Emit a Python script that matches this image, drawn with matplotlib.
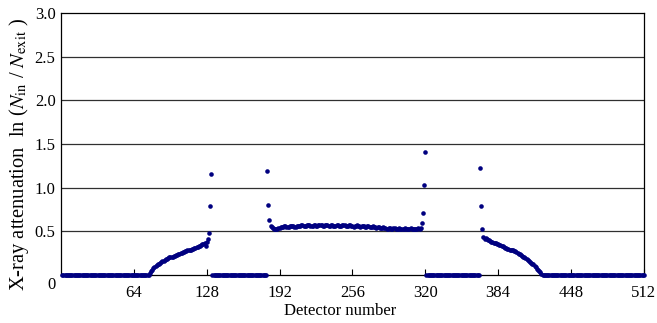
import matplotlib.pyplot as plt
import numpy as np

plt.rcParams['font.family'] = 'Liberation Serif'
plt.rcParams['mathtext.fontset'] = 'stix'

# detector numbers 1..512
detector = np.arange(1, 513)

# attenuation, segment by segment
zero_left = [0.0] * 77          # det 1-77
rise_left = [                   # det 78-132
    0.02, 0.04, 0.06, 0.08, 0.09, 0.10, 0.11, 0.12, 0.13, 0.14,
    0.15, 0.16, 0.16, 0.17, 0.18, 0.18, 0.19, 0.20, 0.20, 0.21,
    0.21, 0.22, 0.22, 0.23, 0.23, 0.24, 0.24, 0.25, 0.25, 0.26,
    0.26, 0.27, 0.27, 0.28, 0.28, 0.29, 0.29, 0.30, 0.30, 0.31,
    0.31, 0.32, 0.32, 0.33, 0.33, 0.34, 0.35, 0.35, 0.36, 0.33,
    0.38, 0.41, 0.48, 0.79, 1.16,
]
zero_mid1 = [0.0] * 48          # det 133-180
plateau = [                     # det 181-320
    1.19, 0.80, 0.63,
    0.56, 0.55, 0.54, 0.53, 0.53, 0.52, 0.53, 0.54, 0.54, 0.55,
    0.55, 0.55, 0.56, 0.56, 0.55, 0.55, 0.55, 0.56, 0.56, 0.56,
    0.56, 0.55, 0.55, 0.56, 0.56, 0.56, 0.56, 0.57, 0.57, 0.56,
    0.56, 0.56, 0.57, 0.57, 0.57, 0.56, 0.56, 0.56, 0.57, 0.57,
    0.56, 0.56, 0.57, 0.57, 0.57, 0.57, 0.56, 0.56, 0.57, 0.57,
    0.57, 0.56, 0.56, 0.57, 0.57, 0.56, 0.56, 0.56, 0.57, 0.57,
    0.56, 0.56, 0.56, 0.57, 0.57, 0.57, 0.56, 0.56, 0.56, 0.57,
    0.57, 0.56, 0.56, 0.55, 0.56, 0.56, 0.57, 0.56, 0.56, 0.55,
    0.56, 0.56, 0.56, 0.55, 0.55, 0.56, 0.56, 0.55, 0.55, 0.55,
    0.56, 0.55, 0.55, 0.54, 0.55, 0.55, 0.54, 0.54, 0.54, 0.55,
    0.54, 0.54, 0.53, 0.53, 0.54, 0.54, 0.53, 0.53, 0.54, 0.54,
    0.53, 0.53, 0.53, 0.54, 0.53, 0.53, 0.52, 0.53, 0.54, 0.53,
    0.53, 0.52, 0.53, 0.54, 0.53, 0.53, 0.53, 0.52, 0.53, 0.53,
    0.54, 0.53, 0.54,
    0.59, 0.71, 1.03, 1.41,
]
zero_mid2 = [0.0] * 47          # det 321-367
fall_right = [                  # det 368-422
    1.22, 0.79, 0.52,
    0.43, 0.41, 0.42, 0.41, 0.40, 0.40, 0.39, 0.38, 0.38, 0.37,
    0.36, 0.36, 0.35, 0.35, 0.34, 0.34, 0.33, 0.33, 0.32, 0.31,
    0.31, 0.30, 0.30, 0.29, 0.29, 0.28, 0.28, 0.27, 0.27, 0.26,
    0.25, 0.24, 0.24, 0.23, 0.22, 0.21, 0.20, 0.19, 0.18, 0.17,
    0.16, 0.15, 0.14, 0.13, 0.12, 0.10, 0.09, 0.07, 0.06, 0.04,
    0.03, 0.01,
]
zero_right = [0.0] * 90         # det 423-512

attenuation = zero_left + rise_left + zero_mid1 + plateau + zero_mid2 + fall_right + zero_right

fig = plt.figure(figsize=(6.57, 3.23), dpi=100)
ax = fig.add_axes([0.093, 0.149, 0.887, 0.811])

for y in [0.5, 1.0, 1.5, 2.0, 2.5]:
    ax.axhline(y, color='#303030', linewidth=0.9, zorder=1)

ax.plot(detector, attenuation, 'o', color='#000080', markersize=3.3,
        markeredgewidth=0, zorder=3, clip_on=False)

ax.set_xlim(0, 512)
ax.set_ylim(0, 3.0)
ax.set_xticks([64, 128, 192, 256, 320, 384, 448, 512])
ax.set_yticks([0.5, 1.0, 1.5, 2.0, 2.5, 3.0])
ax.set_yticklabels(['0.5', '1.0', '1.5', '2.0', '2.5', '3.0'])
ax.tick_params(axis='x', direction='in', length=4, labelsize=12, pad=7)
ax.tick_params(axis='y', length=0, labelsize=12, pad=4)
ax.text(-0.017, -0.038, '0', transform=ax.transAxes, ha='center', va='center', fontsize=12)

for s in ax.spines.values():
    s.set_linewidth(0.9)

ax.set_xlabel('Detector number', fontsize=12)
ax.xaxis.set_label_coords(0.479, -0.106)
ax.set_ylabel(r'X-ray attenuation  ln ($N_{\mathrm{in}}$ / $N_{\mathrm{exit}}$ )', fontsize=14.8)
ax.yaxis.set_label_coords(-0.052, 0.46)

fig.savefig('out.png', dpi=100)
